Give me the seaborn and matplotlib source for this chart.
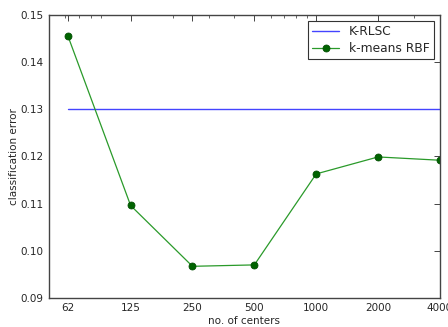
import numpy as np
import pandas as pd
import matplotlib
matplotlib.use("Agg")
import matplotlib.pyplot as plt
import seaborn as sns

# valores
centros = [62, 125, 250, 500, 1000, 2000, 4000]
erro_kmeans = [0.1455, 0.1096, 0.0967, 0.0970, 0.1163, 0.1199, 0.1192]
erro_krlsc = 0.1301
rotulos_x = ['62', '125', '250', '500', '1000', '2000', '4000']

sns.set_style("white")
plt.rcParams['font.family'] = ['DejaVu Sans']
plt.rcParams['xtick.direction'] = 'in'
plt.rcParams['ytick.direction'] = 'in'

df_kmeans = pd.DataFrame({'centros': centros, 'erro': erro_kmeans})
df_krlsc = pd.DataFrame({'centros': [centros[0], centros[-1]],
                         'erro': [erro_krlsc, erro_krlsc]})

fig = plt.figure(figsize=(4.48, 3.27), dpi=100)
ax = fig.add_axes([0.109, 0.089, 0.873, 0.865])

sns.lineplot(data=df_krlsc, x='centros', y='erro', ax=ax, color='#4444ff',
             linewidth=1.0, label='K-RLSC')
sns.lineplot(data=df_kmeans, x='centros', y='erro', ax=ax, color='#2a9a2a',
             linewidth=0.9, marker='o', markersize=5, markerfacecolor='#006400',
             markeredgecolor='#004d00', markeredgewidth=0.6, label='k-means RBF')

ax.set_xscale('log')
ax.set_xlim(50, 4000)
ax.set_ylim(0.09, 0.15)
ax.set_xticks(centros)
ax.set_xticklabels(rotulos_x)
ax.set_yticks([0.09, 0.10, 0.11, 0.12, 0.13, 0.14, 0.15])
ax.set_yticklabels(['0.09', '0.10', '0.11', '0.12', '0.13', '0.14', '0.15'])
ax.tick_params(which='both', top=True, right=True, labelsize=7.5, pad=4)
ax.tick_params(which='major', length=4, width=0.6)
ax.tick_params(which='minor', length=2, width=0.5)
ax.set_xlabel('no. of centers', fontsize=7.5, labelpad=2)
ax.set_ylabel('classification error', fontsize=7.5, labelpad=1)
for s in ax.spines.values():
    s.set_color('#444444')
    s.set_linewidth(1.0)

leg = ax.legend(loc='upper right', fontsize=8.8, fancybox=False, framealpha=1,
                edgecolor='#333333', handlelength=2.2, borderpad=0.35,
                labelspacing=0.3, borderaxespad=0.5)
leg.get_frame().set_linewidth(0.8)

fig.savefig('out.png', dpi=100)
